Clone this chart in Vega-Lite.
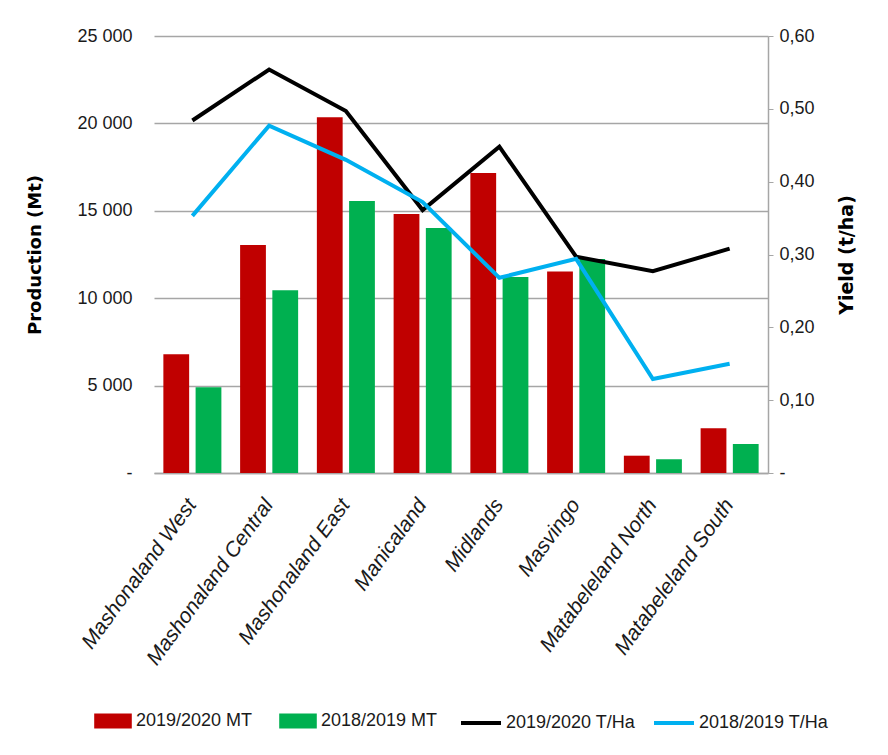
{
  "$schema": "https://vega.github.io/schema/vega-lite/v6.json",
  "width": 614,
  "height": 437,
  "autosize": {"type": "none"},
  "padding": {"left": 154, "top": 36, "right": 120, "bottom": 282},
  "background": "white",
  "data": {
    "values": [
      {"province": "Mashonaland West", "year": "2019/2020", "production": 6800, "yield": 0.484},
      {"province": "Mashonaland West", "year": "2018/2019", "production": 4900, "yield": 0.353},
      {"province": "Mashonaland Central", "year": "2019/2020", "production": 13050, "yield": 0.554},
      {"province": "Mashonaland Central", "year": "2018/2019", "production": 10450, "yield": 0.477},
      {"province": "Mashonaland East", "year": "2019/2020", "production": 20350, "yield": 0.497},
      {"province": "Mashonaland East", "year": "2018/2019", "production": 15560, "yield": 0.43},
      {"province": "Manicaland", "year": "2019/2020", "production": 14820, "yield": 0.361},
      {"province": "Manicaland", "year": "2018/2019", "production": 14020, "yield": 0.372},
      {"province": "Midlands", "year": "2019/2020", "production": 17160, "yield": 0.448},
      {"province": "Midlands", "year": "2018/2019", "production": 11210, "yield": 0.268},
      {"province": "Masvingo", "year": "2019/2020", "production": 11530, "yield": 0.297},
      {"province": "Masvingo", "year": "2018/2019", "production": 12240, "yield": 0.294},
      {"province": "Matabeleland North", "year": "2019/2020", "production": 990, "yield": 0.277},
      {"province": "Matabeleland North", "year": "2018/2019", "production": 780, "yield": 0.129},
      {"province": "Matabeleland South", "year": "2019/2020", "production": 2560, "yield": 0.308},
      {"province": "Matabeleland South", "year": "2018/2019", "production": 1660, "yield": 0.15}
    ]
  },
  "encoding": {
    "x": {
      "field": "province",
      "type": "nominal",
      "sort": null,
      "scale": {"paddingInner": 0.244, "paddingOuter": 0.122},
      "axis": {
        "title": null,
        "labelAngle": -54,
        "labelAlign": "right",
        "labelBaseline": "middle",
        "labelFont": "Liberation Sans",
        "labelFontStyle": "italic",
        "labelFontSize": 21,
        "labelLimit": 0,
        "labelColor": "#1a1a1a",
        "labelPadding": 28,
        "labelOffset": 0,
        "ticks": false,
        "domainColor": "#a6a6a6",
        "domainWidth": 1.5,
        "grid": false
      }
    }
  },
  "layer": [
    {
      "mark": {"type": "bar"},
      "encoding": {
        "xOffset": {
          "field": "year",
          "type": "nominal",
          "sort": "descending",
          "scale": {"paddingInner": 0.2, "paddingOuter": 0}
        },
        "y": {
          "field": "production",
          "type": "quantitative",
          "scale": {"domain": [0, 25000], "nice": false},
          "axis": {
            "orient": "left",
            "title": "Production (Mt)",
            "values": [0, 5000, 10000, 15000, 20000, 25000],
            "labelExpr": "datum.value == 0 ? '-\u00a0\u00a0' : replace(format(datum.value, ','), ',', ' ')",
            "labelFont": "Liberation Sans",
            "labelFontSize": 18,
            "labelColor": "#1a1a1a",
            "labelPadding": 22,
            "domain": false,
            "ticks": false,
            "grid": true,
            "gridColor": "#a6a6a6",
            "gridWidth": 1.5,
            "titleFont": "DejaVu Sans",
            "titleFontWeight": "bold",
            "titleFontSize": 18,
            "titleColor": "#000000",
            "titlePadding": 32
          }
        },
        "fill": {
          "field": "year",
          "type": "nominal",
          "sort": "descending",
          "scale": {"range": ["#c00000", "#00b050"]},
          "legend": {
            "orient": "bottom",
            "direction": "horizontal",
            "title": null,
            "labelExpr": "datum.label + ' MT'",
            "symbolType": "M-0.94,-0.37H0.94V0.37H-0.94Z",
            "symbolSize": 1600,
            "symbolStrokeWidth": 0,
            "labelFont": "Liberation Sans",
            "labelFontSize": 18,
            "labelColor": "#1a1a1a",
            "labelOffset": 3,
            "columnPadding": 25,
            "offset": 32
          }
        }
      }
    },
    {
      "mark": {"type": "line", "strokeWidth": 4, "strokeJoin": "miter"},
      "encoding": {
        "y": {
          "field": "yield",
          "type": "quantitative",
          "scale": {"domain": [0, 0.6], "nice": false},
          "axis": {
            "orient": "right",
            "title": "Yield (t/ha)",
            "titleAngle": 270,
            "values": [0, 0.1, 0.2, 0.3, 0.4, 0.5, 0.6],
            "labelExpr": "datum.value == 0 ? '-' : replace(format(datum.value, '.2f'), '.', ',')",
            "labelFont": "Liberation Sans",
            "labelFontSize": 18,
            "labelColor": "#1a1a1a",
            "labelPadding": 6,
            "domainColor": "#a6a6a6",
            "domainWidth": 1.5,
            "tickColor": "#a6a6a6",
            "tickSize": 5,
            "grid": false,
            "titleFont": "DejaVu Sans",
            "titleFontWeight": "bold",
            "titleFontSize": 19,
            "titleColor": "#000000",
            "titlePadding": 42
          }
        },
        "stroke": {
          "field": "year",
          "type": "nominal",
          "scale": {"domain": ["2019/2020", "2018/2019"], "range": ["#000000", "#00b0f0"]},
          "legend": {
            "orient": "bottom",
            "direction": "horizontal",
            "title": null,
            "labelExpr": "datum.label + ' T/Ha'",
            "symbolType": "stroke",
            "symbolSize": 1600,
            "symbolStrokeWidth": 4,
            "labelFont": "Liberation Sans",
            "labelFontSize": 18,
            "labelColor": "#1a1a1a",
            "labelOffset": 3,
            "columnPadding": 10,
            "offset": 32
          }
        }
      }
    }
  ],
  "resolve": {"scale": {"y": "independent"}},
  "config": {
    "font": "Liberation Sans",
    "view": {"stroke": null},
    "legend": {"layout": {"bottom": {"anchor": "middle", "direction": "horizontal", "margin": 21}}}
  }
}
